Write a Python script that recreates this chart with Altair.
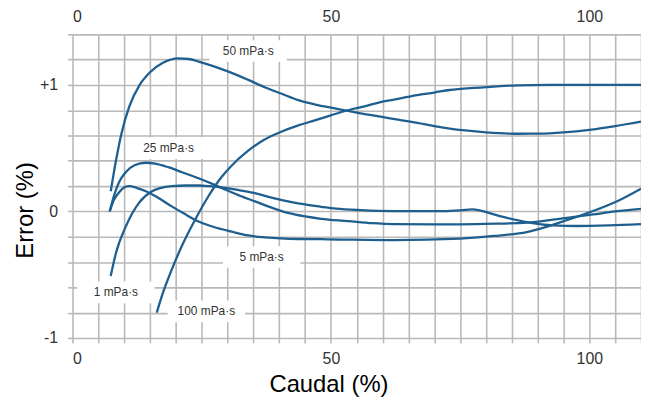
import altair as alt
import pandas as pd

# ---- curve data (Caudal %, Error %) ----
x_1 = [7.4, 8.4, 10.3, 12.9, 15.4, 17.0, 19.2, 22.0, 24.4, 26.5, 28.8, 32.0, 35.3, 38.5, 41.7, 45.0, 48.1, 51.0, 55.8, 62.2, 71.9, 76.0, 77.5, 78.5, 82.7, 87.9, 93.0, 97.5, 103.8, 110.0]
y_1 = [-0.51, -0.33, -0.12, 0.07, 0.16, 0.185, 0.2, 0.205, 0.205, 0.2, 0.19, 0.17, 0.145, 0.11, 0.08, 0.055, 0.037, 0.022, 0.01, 0.003, 0.003, 0.012, 0.016, 0.01, -0.037, -0.084, -0.11, -0.115, -0.11, -0.10]

x_5 = [7.2, 8.0, 9.0, 10.0, 11.0, 12.5, 14.2, 16.5, 19.2, 21.5, 24.4, 27.5, 30.8, 34.0, 37.3, 43.7, 49.4, 62.2, 75.0, 81.5, 87.9, 94.2, 100.7, 105.8, 110.0]
y_5 = [0.0, 0.09, 0.15, 0.19, 0.2, 0.185, 0.16, 0.11, 0.04, -0.015, -0.08, -0.125, -0.16, -0.19, -0.205, -0.218, -0.22, -0.226, -0.215, -0.194, -0.163, -0.089, 0.003, 0.089, 0.18]

x_25 = [7.2, 8.0, 9.0, 10.3, 12.0, 14.2, 16.0, 18.5, 21.2, 24.4, 27.5, 30.0, 32.5, 35.3, 38.5, 41.7, 45.0, 48.1, 53.3, 58.0, 62.2, 75.0, 82.0, 87.9, 94.2, 100.7, 105.0, 110.0]
y_25 = [0.0, 0.12, 0.23, 0.31, 0.365, 0.385, 0.378, 0.35, 0.31, 0.262, 0.21, 0.165, 0.122, 0.08, 0.03, -0.012, -0.04, -0.058, -0.076, -0.093, -0.1, -0.102, -0.097, -0.089, -0.058, -0.024, 0.0, 0.02]

x_50 = [7.4, 8.5, 9.5, 11.0, 13.0, 15.0, 17.5, 20.5, 22.5, 24.4, 27.5, 30.8, 34.0, 37.3, 40.5, 43.7, 47.0, 50.0, 53.3, 56.5, 59.6, 63.0, 66.7, 70.0, 73.0, 76.0, 80.0, 86.0, 90.0, 95.0, 100.0, 105.0, 110.0]
y_50 = [0.16, 0.42, 0.62, 0.83, 1.0, 1.1, 1.175, 1.21, 1.205, 1.185, 1.145, 1.095, 1.04, 0.98, 0.93, 0.88, 0.845, 0.82, 0.795, 0.77, 0.75, 0.725, 0.70, 0.675, 0.655, 0.64, 0.625, 0.614, 0.615, 0.625, 0.645, 0.675, 0.71]

x_100 = [16.3, 17.3, 19.2, 21.2, 23.8, 26.3, 28.8, 30.5, 34.0, 37.0, 40.4, 43.7, 46.9, 50.0, 53.3, 56.5, 59.6, 63.0, 66.7, 70.0, 73.0, 77.0, 80.0, 86.0, 92.0, 100.0, 110.0]
y_100 = [-0.80, -0.667, -0.46, -0.27, -0.06, 0.12, 0.27, 0.35, 0.48, 0.565, 0.63, 0.68, 0.72, 0.76, 0.80, 0.83, 0.865, 0.89, 0.92, 0.94, 0.96, 0.975, 0.982, 0.997, 1.0, 1.0, 1.0]

series_names = ["1 mPa·s", "5 mPa·s", "25 mPa·s", "50 mPa·s", "100 mPa·s"]
series_x = [x_1, x_5, x_25, x_50, x_100]
series_y = [y_1, y_5, y_25, y_50, y_100]

# ---- curve labels ----
label_text = ["50 mPa·s", "25 mPa·s", "5 mPa·s", "1 mPa·s", "100 mPa·s"]
label_x = [34.0, 18.6, 36.6, 8.4, 25.9]
label_y = [1.268, 0.50, -0.36, -0.64, -0.79]

# ---- axis ticks ----
x_grid = list(range(0, 111, 5))
x_labels = [0, 50, 100]
y_grid = [-1.0, -0.8, -0.6, -0.4, -0.2, 0.0, 0.2, 0.4, 0.6, 0.8, 1.0, 1.2, 1.4]

rows = []
for name, xs, ys in zip(series_names, series_x, series_y):
    for i, (xv, yv) in enumerate(zip(xs, ys)):
        rows.append({"serie": name, "x": xv, "y": yv, "o": i})
df = pd.DataFrame(rows)
lab = pd.DataFrame({"t": label_text, "x": label_x, "y": label_y})
top_df = pd.DataFrame({"x": x_labels})

GRID = "#b9b9b9"
LINE = "#1f5f8f"
FONT = "Liberation Sans"

xscale = alt.Scale(domain=[0, 110], nice=False, zero=False)
yscale = alt.Scale(domain=[-1, 1.4], nice=False, zero=False)

x_axis = alt.Axis(
    orient="bottom",
    values=x_grid, grid=True, gridColor=GRID, gridWidth=1.6, domain=False,
    ticks=True, tickColor=GRID, tickWidth=1.6, tickSize=5,
    labelExpr="datum.value % 50 == 0 ? datum.label : ''",
    labelFont=FONT, labelFontSize=16, labelColor="#333333", labelPadding=8,
    title="Caudal (%)", titleFont=FONT, titleFontSize=24, titleFontWeight="normal",
    titleColor="#000000", titleX=258, titleY=47, titleBaseline="middle",
)
y_axis = alt.Axis(
    orient="left",
    values=y_grid, grid=True, gridColor=GRID, gridWidth=1.6, domain=False,
    ticks=True, tickColor=GRID, tickWidth=1.6, tickSize=5,
    labelExpr="datum.value == 1 ? '+1' : (datum.value == 0 ? '0' : (datum.value == -1 ? '-1' : ''))",
    labelFont=FONT, labelFontSize=16, labelColor="#333333", labelPadding=10,
    title="Error (%)", titleFont=FONT, titleFontSize=24, titleFontWeight="normal",
    titleColor="#000000", titleX=-47, titleY=177, titleBaseline="middle", titleAngle=-90,
)
top_axis = alt.Axis(
    orient="top", values=x_labels, grid=False, domain=False, ticks=False,
    labelFont=FONT, labelFontSize=16, labelColor="#333333", labelPadding=10,
)

lines = alt.Chart(df).mark_line(color=LINE, strokeWidth=2.3, interpolate="monotone").encode(
    x=alt.X("x:Q", scale=xscale, axis=x_axis),
    y=alt.Y("y:Q", scale=yscale, axis=y_axis),
    detail="serie:N",
    order="o:Q",
)

boxes = alt.Chart(lab).mark_point(
    shape="M-1,-0.28L1,-0.28L1,0.28L-1,0.28Z", size=6084,
    filled=True, fill="white", opacity=1, strokeWidth=0,
).encode(
    x=alt.X("x:Q", scale=xscale, axis=None),
    y=alt.Y("y:Q", scale=yscale, axis=None),
)

texts = alt.Chart(lab).mark_text(font=FONT, fontSize=12, color="#333333").encode(
    x=alt.X("x:Q", scale=xscale, axis=None),
    y=alt.Y("y:Q", scale=yscale, axis=None),
    text="t:N",
)

top = alt.Chart(top_df).mark_point(opacity=0).encode(
    x=alt.X("x:Q", scale=xscale, axis=top_axis, title=""),
)

chart = alt.layer(lines, boxes, texts, top).resolve_axis(x="independent", y="independent").properties(
    width=573, height=306,
    autosize=alt.AutoSizeParams(type="none"),
    padding={"left": 65, "top": 25, "right": 0, "bottom": 60},
).configure_view(strokeWidth=0)

chart.save("out.html", embed_options={"renderer": "svg", "actions": False})
